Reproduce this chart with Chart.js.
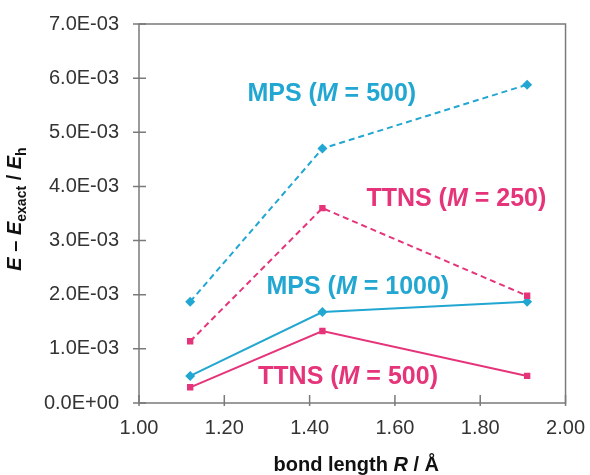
<!DOCTYPE html>
<html>
<head>
<meta charset="utf-8">
<script src="https://cdn.jsdelivr.net/npm/chart.js@4"></script>
<style>
  html, body { margin: 0; padding: 0; background: #fff; }
  #wrap { width: 590px; height: 475px; }
</style>
</head>
<body>
<div id="wrap"><canvas id="chart"></canvas></div>
<script>
// bond lengths (Å)
const bondLength = [1.12, 1.43, 1.91];

// E - E_exact (Eh)
const mps500   = [1.87e-3, 4.70e-3, 5.88e-3];
const ttns250  = [1.14e-3, 3.60e-3, 1.98e-3];
const mps1000  = [0.50e-3, 1.68e-3, 1.87e-3];
const ttns500  = [0.29e-3, 1.33e-3, 0.50e-3];

// in-plot labels, anchored in data coordinates
const labelNames = ['MPS', 'TTNS', 'MPS', 'TTNS'];
const labelM     = ['500', '250', '1000', '500'];
const labelX     = [1.452, 1.744, 1.513, 1.490];
const labelY     = [5.71e-3, 3.76e-3, 2.14e-3, 0.48e-3];

const CYAN = '#22a6d2';
const PINK = '#e5347a';
const labelColors = [CYAN, PINK, CYAN, PINK];

const FONT = '"Liberation Sans", Arial, sans-serif';

function sciLabel(v) {
    if (Math.abs(v) < 1e-12) return '0.0E+00';
    let e = Math.floor(Math.log10(Math.abs(v)) + 1e-9);
    let m = v / Math.pow(10, e);
    let sign = e < 0 ? '-' : '+';
    let ee = String(Math.abs(e)).padStart(2, '0');
    return m.toFixed(1) + 'E' + sign + ee;
}

function series(x, y) {
    return x.map((v, i) => ({ x: v, y: y[i] }));
}

function ds(label, data, color, dashed, shape, r) {
    return {
        label,
        data: series(bondLength, data),
        borderColor: color,
        backgroundColor: color,
        borderWidth: 2,
        borderDash: dashed ? [6, 4] : [],
        pointStyle: shape,
        pointRadius: r,
        pointHoverRadius: r,
        pointBorderWidth: 0,
        tension: 0
    };
}

// draws a run of [text, font, dy] pieces centred on cx
function drawRun(ctx, parts, cx, y) {
    let w = 0;
    parts.forEach(p => { ctx.font = p[1]; w += ctx.measureText(p[0]).width; });
    let x = cx - w / 2;
    parts.forEach(p => {
        ctx.font = p[1];
        ctx.fillText(p[0], x, y + (p[2] || 0));
        x += ctx.measureText(p[0]).width;
    });
}

// frame + crossing ticks + texts
const decor = {
    id: 'decor',
    afterDraw(chart) {
        const ctx = chart.ctx;
        const a = chart.chartArea;
        const xs = chart.scales.x, ys = chart.scales.y;
        ctx.save();
        ctx.strokeStyle = '#7a7a7a';
        ctx.lineWidth = 1.5;
        ctx.strokeRect(a.left, a.top, a.right - a.left, a.bottom - a.top);

        ctx.beginPath();
        ys.ticks.forEach(t => {
            const y = ys.getPixelForValue(t.value);
            ctx.moveTo(a.left - 6, y);
            ctx.lineTo(a.left + 7, y);
        });
        xs.ticks.forEach(t => {
            const x = xs.getPixelForValue(t.value);
            ctx.moveTo(x, a.bottom + 3);
            ctx.lineTo(x, a.bottom - 8);
        });
        ctx.stroke();

        // series labels
        ctx.textBaseline = 'middle';
        const lf = 'bold 25px ' + FONT, lfi = 'italic bold 25px ' + FONT;
        labelNames.forEach((name, i) => {
            ctx.fillStyle = labelColors[i];
            drawRun(ctx, [
                [name + ' (', lf],
                ['M', lfi],
                [' = ' + labelM[i] + ')', lf]
            ], xs.getPixelForValue(labelX[i]), ys.getPixelForValue(labelY[i]));
        });

        // x title
        ctx.fillStyle = '#111';
        ctx.textBaseline = 'alphabetic';
        const tf = 'bold 20px ' + FONT, tfi = 'italic bold 20px ' + FONT;
        drawRun(ctx, [
            ['bond length ', tf],
            ['R', tfi],
            [' / Å', tf]
        ], (a.left + a.right) / 2 + 4, 471);

        // y title, rotated
        ctx.translate(21, 209);
        ctx.rotate(-Math.PI / 2);
        const sf = 'bold 14px ' + FONT;
        drawRun(ctx, [
            ['E', tfi],
            [' \u2013 ', tf],
            ['E', tfi],
            ['exact', sf, 5],
            [' / ', tf],
            ['E', tfi],
            ['h', sf, 5]
        ], 0, 0);
        ctx.restore();
    }
};

new Chart(document.getElementById('chart').getContext('2d'), {
    type: 'line',
    data: {
        datasets: [
            ds('MPS (M = 500)',  mps500,  CYAN, true,  'rectRot', 5),
            ds('TTNS (M = 250)', ttns250, PINK, true,  'rect',    4.5),
            ds('MPS (M = 1000)', mps1000, CYAN, false, 'rectRot', 5),
            ds('TTNS (M = 500)', ttns500, PINK, false, 'rect',    4.5)
        ]
    },
    options: {
        responsive: true,
        maintainAspectRatio: false,
        animation: false,
        layout: { padding: { left: 0, right: 19, top: 22, bottom: 0 } },
        plugins: { legend: { display: false }, tooltip: { enabled: false } },
        scales: {
            x: {
                type: 'linear',
                min: 1, max: 2,
                ticks: {
                    stepSize: 0.2,
                    color: '#333',
                    font: { family: FONT, size: 20 },
                    padding: 5,
                    callback: v => v.toFixed(2)
                },
                grid: { display: false },
                border: { display: false },
                afterFit(s) { s.height = 72; }
            },
            y: {
                min: 0, max: 0.007,
                ticks: {
                    stepSize: 0.001,
                    color: '#333',
                    font: { family: FONT, size: 20 },
                    padding: 12,
                    callback: v => sciLabel(v)
                },
                grid: { display: false },
                border: { display: false },
                afterFit(s) { s.width = 139; }
            }
        }
    },
    plugins: [decor]
});
</script>
</body>
</html>
